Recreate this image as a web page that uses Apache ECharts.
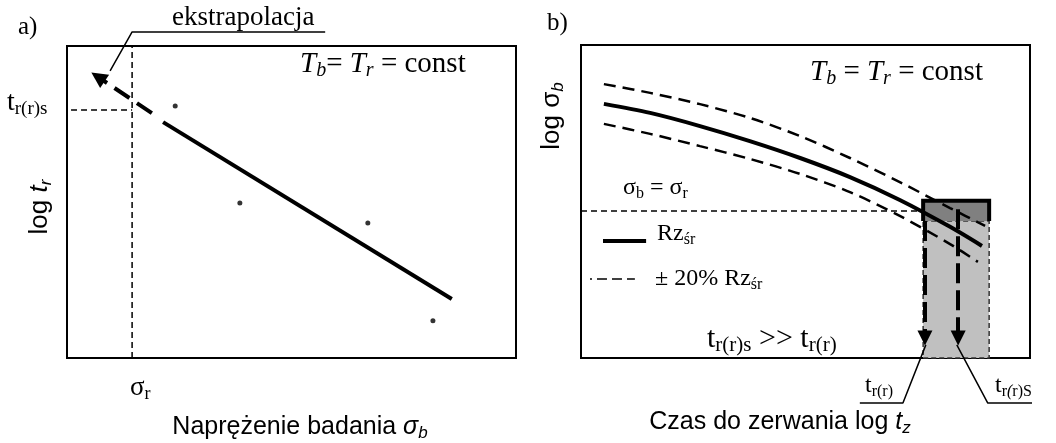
<!DOCTYPE html>
<html>
<head>
<meta charset="utf-8">
<script src="https://cdn.jsdelivr.net/npm/echarts@6/dist/echarts.min.js"></script>
<style>
  html, body { margin: 0; padding: 0; background: #fff; }
  #chart { width: 1056px; height: 443px; }
</style>
</head>
<body>
<div id="chart"></div>
<script>
// ---- Panel a: stress vs. log time to rupture, fitted line and extrapolation ----
const pointsA = [[2.41, 8.08], [3.85, 4.97], [6.70, 4.33], [8.15, 1.19]];
const fitA = [[2.14, 7.56], [8.57, 1.89]];
const extrapA = [[1.89, 7.85], [0.69, 9.01]];
const sigmaRLine = [[1.45, 0], [1.45, 10]];
const tRSLine = [[0.09, 7.95], [1.45, 7.95]];
const calloutA = [[5.75, 10.45], [1.45, 10.45], [0.96, 9.2]];

// ---- Panel b: mean rupture curve with +/-20% scatter band ----
const meanB = [[0.51, 8.12], [1.54, 7.83], [2.65, 7.41], [3.76, 6.93], [4.88, 6.39], [5.99, 5.78], [7.10, 5.05], [8.22, 4.19], [8.93, 3.58]];
const upperB = [[0.51, 8.75], [1.54, 8.47], [2.65, 8.11], [3.76, 7.67], [4.88, 7.09], [5.99, 6.39], [7.10, 5.62], [8.22, 4.79], [9.0, 4.22]];
const lowerB = [[0.51, 7.48], [1.54, 7.16], [2.65, 6.77], [3.76, 6.36], [4.88, 5.88], [5.99, 5.30], [7.10, 4.54], [8.22, 3.64], [8.84, 3.07]];
const sigmaLevelLine = [[0, 4.70], [7.62, 4.70]];
const bandDark = [[7.62, 4.38, 9.09, 5.02]];
const bandLight = [[7.62, 0, 9.09, 4.38]];
const arrowTR = [[7.66, 4.38], [7.66, 0.64]];
const arrowTRS = [[8.40, 4.75], [8.40, 0.64]];
const calloutTR = [[7.68, 0.42], [7.17, -1.44], [6.21, -1.44]];
const calloutTRS = [[8.37, 0.42], [9.06, -1.44], [10.51, -1.44]];
const legendSolid = [[0.49, 3.74], [1.45, 3.74]];
const legendDash = [[0.20, 2.52], [1.20, 2.52]];

const SERIF = '"Liberation Serif", "Times New Roman", serif';
const SANS = '"Liberation Sans", Arial, sans-serif';

function richSet(family, f, fs) {
  const base = { fontFamily: family, fill: '#000', verticalAlign: 'bottom' };
  return {
    m:  Object.assign({}, base, { fontSize: f, lineHeight: f, padding: [0, 0, 2, 0] }),
    mi: Object.assign({}, base, { fontSize: f, lineHeight: f, padding: [0, 0, 2, 0], fontStyle: 'italic' }),
    s:  Object.assign({}, base, { fontSize: fs, lineHeight: fs }),
    si: Object.assign({}, base, { fontSize: fs, lineHeight: fs, fontStyle: 'italic' })
  };
}

// text placed by its baseline
function label(x, baseline, text, family, f, fs, align, rotation) {
  const off = baseline - 0.34 * f + 1;
  const el = {
    type: 'text',
    silent: true,
    z: 10,
    style: {
      text: text,
      rich: richSet(family, f, fs),
      align: align || 'left',
      verticalAlign: 'middle'
    }
  };
  if (rotation) {
    el.x = off; el.y = x; el.rotation = rotation;
  } else {
    el.x = x; el.y = off;
  }
  return el;
}

const thin = { color: '#000', width: 1.5, type: [6, 4] };

function lineSeries(grid, data, style, extra) {
  return Object.assign({
    type: 'line', xAxisIndex: grid, yAxisIndex: grid, data: data,
    symbol: 'none', showSymbol: false, clip: false, silent: true, z: 4,
    lineStyle: style
  }, extra || {});
}

function arrowSeries(grid, coords, style, size) {
  return {
    type: 'lines', coordinateSystem: 'cartesian2d', xAxisIndex: grid, yAxisIndex: grid,
    clip: false, silent: true, z: 5,
    symbol: ['none', 'triangle'], symbolSize: size,
    lineStyle: Object.assign({ opacity: 1 }, style),
    itemStyle: { color: '#000' },
    data: [{ coords: coords }]
  };
}

function bandRender(fill, dark) {
  return function (params, api) {
    const tl = api.coord([api.value(0), api.value(3)]);
    const br = api.coord([api.value(2), api.value(1)]);
    const children = [{
      type: 'rect',
      shape: { x: tl[0], y: tl[1], width: br[0] - tl[0], height: br[1] - tl[1] },
      style: dark
        ? { fill: fill, stroke: null }
        : { fill: fill, stroke: '#333', lineWidth: 1.5, lineDash: [5, 3] }
    }];
    if (dark) {
      children.push({
        type: 'polyline',
        shape: { points: [[tl[0], br[1]], tl, [br[0], tl[1]], [br[0], br[1]]] },
        style: { fill: null, stroke: '#000', lineWidth: 4, lineJoin: 'miter' }
      });
    }
    return { type: 'group', children: children };
  };
}

const chart = echarts.init(document.getElementById('chart'));

chart.setOption({
  animation: false,
  backgroundColor: '#fff',
  grid: [
    { left: 67, top: 46, width: 449, height: 312, show: true, borderColor: '#000', borderWidth: 2, backgroundColor: 'transparent' },
    { left: 581, top: 45, width: 449, height: 313, show: true, borderColor: '#000', borderWidth: 2, backgroundColor: 'transparent' }
  ],
  xAxis: [
    { gridIndex: 0, type: 'value', min: 0, max: 10, show: false },
    { gridIndex: 1, type: 'value', min: 0, max: 10, show: false }
  ],
  yAxis: [
    { gridIndex: 0, type: 'value', min: 0, max: 10, show: false },
    { gridIndex: 1, type: 'value', min: 0, max: 10, show: false }
  ],
  series: [
    // panel a
    { type: 'scatter', xAxisIndex: 0, yAxisIndex: 0, data: pointsA, symbolSize: 5, itemStyle: { color: '#000' }, silent: true, z: 4 },
    lineSeries(0, fitA, { color: '#000', width: 4 }),
    arrowSeries(0, extrapA, { color: '#000', width: 4, type: [18, 9] }, [12, 16]),
    lineSeries(0, sigmaRLine, thin),
    lineSeries(0, tRSLine, thin),
    lineSeries(0, calloutA, { color: '#000', width: 1.5 }),

    // panel b
    { type: 'custom', xAxisIndex: 1, yAxisIndex: 1, data: bandLight, renderItem: bandRender('#c0c0c0', false), silent: true, z: 1 },
    { type: 'custom', xAxisIndex: 1, yAxisIndex: 1, data: bandDark, renderItem: bandRender('#808080', true), silent: true, z: 2 },
    lineSeries(1, sigmaLevelLine, thin),
    lineSeries(1, upperB, { color: '#000', width: 2.5, type: [12, 7] }, { smooth: 0.3 }),
    lineSeries(1, lowerB, { color: '#000', width: 2.5, type: [12, 7] }, { smooth: 0.3 }),
    lineSeries(1, meanB, { color: '#000', width: 4 }, { smooth: 0.3 }),
    arrowSeries(1, arrowTR, { color: '#000', width: 4, type: [20, 7] }, [11, 15]),
    arrowSeries(1, arrowTRS, { color: '#000', width: 4, type: [20, 7] }, [11, 15]),
    lineSeries(1, calloutTR, { color: '#000', width: 1.5 }),
    lineSeries(1, calloutTRS, { color: '#000', width: 1.5 }),
    lineSeries(1, legendSolid, { color: '#000', width: 4 }),
    lineSeries(1, legendDash, { color: '#000', width: 1.5, type: [10, 5], dashOffset: 8 })
  ],
  graphic: [
    label(18, 37, '{m|a)}', SERIF, 25, 17),
    label(547, 33, '{m|b)}', SERIF, 25, 17),
    label(172, 28, '{m|ekstrapolacja}', SERIF, 27, 18),
    label(7, 113, '{m|t}{s|r(r)s}', SERIF, 28, 19),
    label(300, 75, '{mi|T}{si|b}{m|= }{mi|T}{si|r}{m| = const}', SERIF, 29, 20),
    label(810, 83, '{mi|T}{si|b}{m| = }{mi|T}{si|r}{m| = const}', SERIF, 29, 20),
    label(130, 398, '{m|σ}{s|r}', SERIF, 27, 18),
    label(300, 437, '{m|Naprężenie badania }{mi|σ}{si|b}', SANS, 25, 17, 'center'),
    label(780, 432, '{m|Czas do zerwania log }{mi|t}{si|z}', SANS, 25, 17, 'center'),
    label(207, 50, '{m|log }{mi|t}{si|r}', SANS, 26, 17, 'center', Math.PI / 2),
    label(116, 562, '{m|log σ}{si|b}', SANS, 26, 17, 'center', Math.PI / 2),
    label(623, 197, '{m|σ}{s|b}{m| = σ}{s|r}', SERIF, 24, 16),
    label(657, 243, '{m|Rz}{s|śr}', SERIF, 24, 16),
    label(655, 288, '{m|± 20% Rz}{s|śr}', SERIF, 24, 16),
    label(707, 350, '{m|t}{s|r(r)s}{m| >> t}{s|r(r)}', SERIF, 30, 21),
    label(865, 395, '{m|t}{s|r(r)}', SERIF, 24, 16),
    label(995, 395, '{m|t}{s|r}{si|(}{s|r)S}', SERIF, 24, 16)
  ]
});
</script>
</body>
</html>
